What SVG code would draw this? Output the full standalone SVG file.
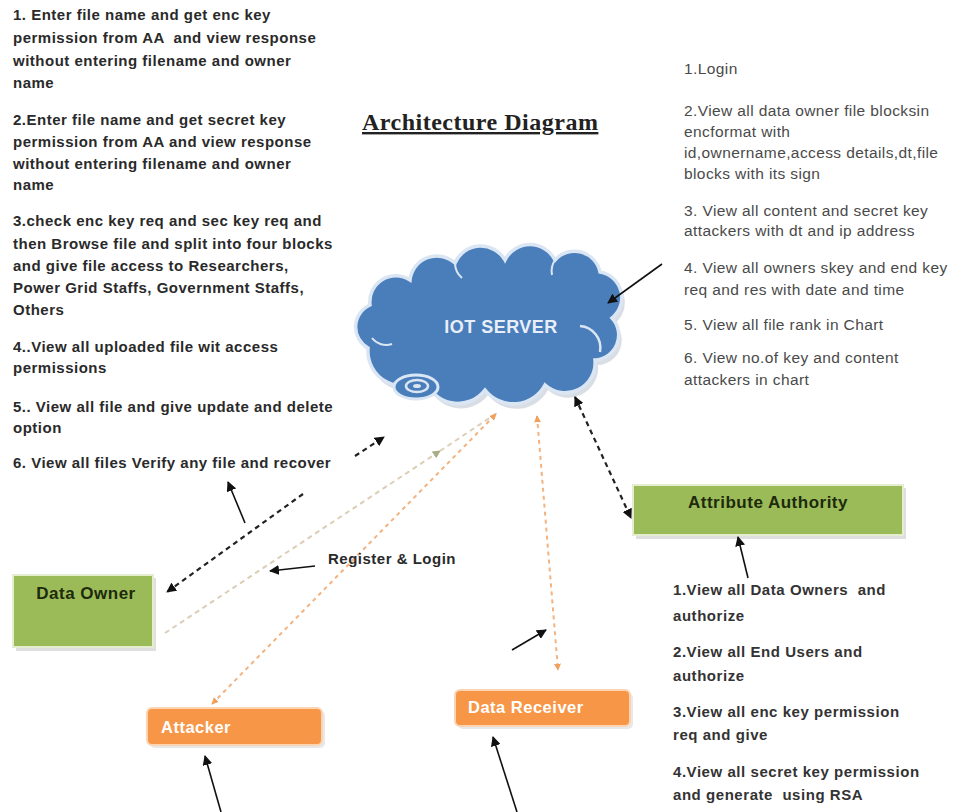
<svg xmlns="http://www.w3.org/2000/svg" width="953" height="812" viewBox="0 0 953 812">
<defs>
<marker id="ab" viewBox="0 0 10 10" refX="9" refY="5" markerWidth="10" markerHeight="10" markerUnits="userSpaceOnUse" orient="auto-start-reverse"><path d="M0,0 L10,5 L0,10 z" fill="#111"/></marker>
<marker id="ao" viewBox="0 0 10 10" refX="9" refY="5" markerWidth="7" markerHeight="7" markerUnits="userSpaceOnUse" orient="auto-start-reverse"><path d="M0,0 L10,5 L0,10 z" fill="#f0a05a"/></marker>
<marker id="ag" viewBox="0 0 10 10" refX="9" refY="5" markerWidth="8" markerHeight="8" markerUnits="userSpaceOnUse" orient="auto"><path d="M0,0 L10,5 L0,10 z" fill="#a9ac84"/></marker>
<path id="cloud" d="M 368 348 A 24 24 0 0 1 370 305 A 26 26 0 0 1 410 280 A 27 27 0 0 1 455 263 A 28 28 0 0 1 505 260 A 28 28 0 0 1 555 260 A 26 26 0 0 1 600 272 A 26 26 0 0 1 612 318 A 25 25 0 0 1 595 360 A 30 30 0 0 1 545 385 A 36 36 0 0 1 485 390 A 34 34 0 0 1 425 378 A 35 35 0 0 1 368 348 Z"/>
</defs>
<style>
text{white-space:pre}
.lt{font-family:"Liberation Sans",Arial,sans-serif;font-weight:bold;font-size:15px;letter-spacing:.5px;fill:#2a2a2a}
.rt{font-family:"Liberation Sans",Arial,sans-serif;font-size:15.5px;letter-spacing:.4px;fill:#4a4a4a}
.rb{font-family:"Liberation Sans",Arial,sans-serif;font-weight:bold;font-size:15px;letter-spacing:.55px;fill:#333}
.title{font-family:"Liberation Serif","Times New Roman",serif;font-weight:bold;font-size:24px;letter-spacing:.5px;fill:#222;text-decoration:underline}
.nl{font-family:"Liberation Sans",Arial,sans-serif;font-weight:bold;letter-spacing:.5px}
.bd{fill:none;stroke:#222;stroke-width:2.2;stroke-dasharray:5 4}
.od{fill:none;stroke:#f4b27e;stroke-width:2;stroke-dasharray:4 4}
.gd{fill:none;stroke:#dccdb6;stroke-width:2;stroke-dasharray:5 4}
.sa{fill:none;stroke:#111;stroke-width:1.6;marker-end:url(#ab)}
</style>
<rect width="953" height="812" fill="#fff"/>

<g id="left-text" class="lt">
<text x="13" y="20">1. Enter file name and get enc key</text>
<text x="13" y="43">permission from AA  and view response</text>
<text x="13" y="66">without entering filename and owner</text>
<text x="13" y="88">name</text>
<text x="13" y="125">2.Enter file name and get secret key</text>
<text x="13" y="147">permission from AA and view response</text>
<text x="13" y="169">without entering filename and owner</text>
<text x="13" y="190">name</text>
<text x="13" y="226">3.check enc key req and sec key req and</text>
<text x="13" y="249">then Browse file and split into four blocks</text>
<text x="13" y="271">and give file access to Researchers,</text>
<text x="13" y="293">Power Grid Staffs, Government Staffs,</text>
<text x="13" y="315">Others</text>
<text x="13" y="352">4..View all uploaded file wit access</text>
<text x="13" y="373">permissions</text>
<text x="13" y="412">5.. View all file and give update and delete</text>
<text x="13" y="433">option</text>
<text x="13" y="468">6. View all files Verify any file and recover</text>
</g>

<g id="title"><text class="title" x="362" y="130">Architecture Diagram</text></g>

<g id="right-text" class="rt">
<text x="684" y="74">1.Login</text>
<text x="684" y="116">2.View all data owner file blocksin</text>
<text x="684" y="137">encformat with</text>
<text x="684" y="158">id,ownername,access details,dt,file</text>
<text x="684" y="179">blocks with its sign</text>
<text x="684" y="216">3. View all content and secret key</text>
<text x="684" y="236">attackers with dt and ip address</text>
<text x="684" y="273">4. View all owners skey and end key</text>
<text x="684" y="295">req and res with date and time</text>
<text x="684" y="330">5. View all file rank in Chart</text>
<text x="684" y="363">6. View no.of key and content</text>
<text x="684" y="385">attackers in chart</text>
</g>

<g id="aa-text" class="rb">
<text x="673" y="595">1.View all Data Owners  and</text>
<text x="673" y="621">authorize</text>
<text x="673" y="657">2.View all End Users and</text>
<text x="673" y="681">authorize</text>
<text x="673" y="717">3.View all enc key permission</text>
<text x="673" y="740">req and give</text>
<text x="673" y="777">4.View all secret key permission</text>
<text x="673" y="800">and generate  using RSA</text>
</g>

<g id="iot-server">
<use href="#cloud" transform="translate(3,5)" fill="#c9d0da" opacity=".7"/>
<use href="#cloud" fill="#4a7ebb" stroke="#dbe6f4" stroke-width="3.5"/>
<path d="M 580 326 A 22 22 0 0 1 600 352" fill="none" stroke="#dbe6f4" stroke-width="2.5"/>
<path d="M 372 338 A 18 18 0 0 0 392 344" fill="none" stroke="#dbe6f4" stroke-width="2"/>
<path d="M 455 263 A 20 20 0 0 0 462 278" fill="none" stroke="#dbe6f4" stroke-width="2"/>
<path d="M 555 260 A 20 20 0 0 0 552 275" fill="none" stroke="#dbe6f4" stroke-width="2"/>
<ellipse cx="416" cy="387" rx="22" ry="12" fill="#4a7ebb" stroke="#dbe6f4" stroke-width="3"/>
<ellipse cx="417" cy="386" rx="11" ry="6" fill="none" stroke="#dbe6f4" stroke-width="2.5"/>
<ellipse cx="417" cy="386" rx="4" ry="2" fill="#dbe6f4"/>
<text class="nl" x="501" y="333" text-anchor="middle" font-size="18" fill="#e9eff8">IOT SERVER</text>
</g>

<g id="attribute-authority">
<rect x="636" y="488" width="270" height="51" fill="#c9c9c9" opacity=".6"/>
<rect x="633" y="485" width="270" height="50" fill="#9bbb59" stroke="#e4edcf" stroke-width="2"/>
<text class="nl" x="768" y="508" text-anchor="middle" font-size="17" fill="#1d2a0c">Attribute Authority</text>
</g>

<g id="data-owner">
<rect x="16" y="578" width="140" height="73" fill="#c9c9c9" opacity=".6"/>
<rect x="13" y="575" width="140" height="72" fill="#9bbb59" stroke="#e4edcf" stroke-width="2"/>
<text class="nl" x="86" y="599" text-anchor="middle" font-size="17" fill="#1d2a0c">Data Owner</text>
</g>

<g id="attacker">
<rect x="150" y="711" width="175" height="37" rx="5" fill="#d9d9d9" opacity=".6"/>
<rect x="147" y="708" width="175" height="37" rx="5" fill="#f79646" stroke="#fbd4b4" stroke-width="2"/>
<text class="nl" x="161" y="733" font-size="16.5" fill="#fff">Attacker</text>
</g>

<g id="data-receiver">
<rect x="458" y="693" width="175" height="36" rx="5" fill="#d9d9d9" opacity=".6"/>
<rect x="455" y="690" width="175" height="36" rx="5" fill="#f79646" stroke="#fbd4b4" stroke-width="2"/>
<text class="nl" x="468" y="713" font-size="16.5" fill="#fff">Data Receiver</text>
</g>

<g id="connectors">
<path class="gd" d="M165,633 L440,451" marker-end="url(#ag)"/>
<path class="gd" d="M440,451 L497,413"/>
<path class="od" d="M212,704 L496,414" marker-start="url(#ao)" marker-end="url(#ao)"/>
<path class="od" d="M537,416 L558,670" marker-start="url(#ao)" marker-end="url(#ao)"/>
<path class="bd" d="M575,397 L631,518" marker-start="url(#ab)" marker-end="url(#ab)"/>
<path class="bd" d="M303,494 L167,592" marker-end="url(#ab)"/>
<path class="bd" d="M355,456 L384,437" marker-end="url(#ab)"/>
<path class="sa" d="M245,523 L228,482"/>
<path class="sa" d="M315,566 L270,571"/>
<path class="sa" d="M512,650 L546,630"/>
<path class="sa" d="M662,264 L608,303"/>
<path class="sa" d="M748,578 L738,537"/>
<path class="sa" d="M221,812 L205,756"/>
<path class="sa" d="M517,812 L493,737"/>
</g>

<g id="label-register"><text class="lt" x="328" y="564">Register &amp; Login</text></g>
</svg>
